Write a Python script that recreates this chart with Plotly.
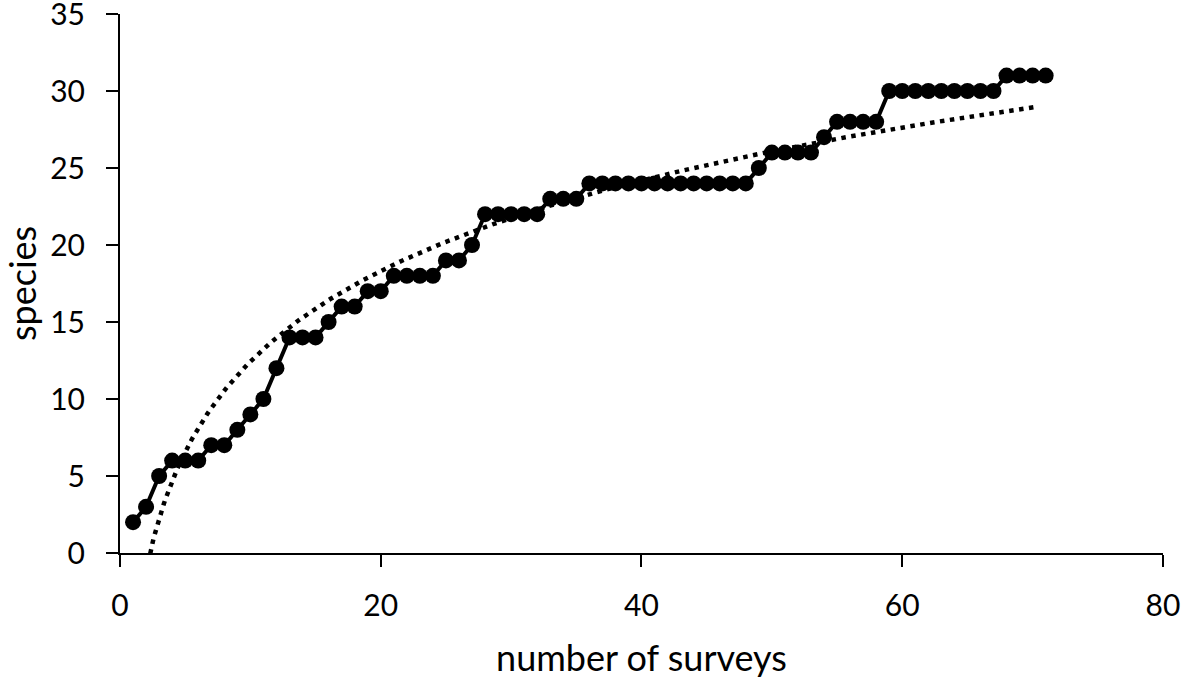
import numpy as np
import plotly.graph_objects as go

surveys = list(range(1, 72))
species = [2, 3, 5, 6, 6, 6, 7, 7, 8, 9, 10, 12, 14, 14, 14, 15, 16, 16, 17, 17,
           18, 18, 18, 18, 19, 19, 20, 22, 22, 22, 22, 22, 23, 23, 23,
           24, 24, 24, 24, 24, 24, 24, 24, 24, 24, 24, 24, 24,
           25, 26, 26, 26, 26, 27, 28, 28, 28, 28,
           30, 30, 30, 30, 30, 30, 30, 30, 30, 31, 31, 31, 31]
x_ticks = [0, 20, 40, 60, 80]
y_ticks = [0, 5, 10, 15, 20, 25, 30, 35]

# logarithmic trendline (least squares on ln x, like a spreadsheet trendline)
a, b = np.polyfit(np.log(surveys), species, 1)
tx = np.linspace(min(surveys), max(surveys) - 0.6, 500)
ty = a * np.log(tx) + b

font = "Lato, Open Sans, sans-serif"
fig = go.Figure()
fig.add_trace(go.Scatter(x=tx, y=ty, mode="lines",
                         line=dict(color="black", width=4.5, dash="4.5px,5.5px"),
                         hoverinfo="skip", showlegend=False))
fig.add_trace(go.Scatter(x=surveys, y=species, mode="lines+markers",
                         line=dict(color="black", width=4),
                         marker=dict(color="black", size=16),
                         showlegend=False))

fig.update_layout(
    width=1181, height=679,
    margin=dict(l=120, r=18, t=14, b=126),
    plot_bgcolor="white", paper_bgcolor="white",
    font=dict(family=font, size=30, color="black"),
)
fig.update_xaxes(range=[0, 80.001], tickvals=x_ticks, showgrid=False, zeroline=False,
                 showline=True, linecolor="black", linewidth=2,
                 ticks="outside", ticklen=12, tickwidth=2, tickcolor="black",
                 ticklabelstandoff=13, automargin=False, ticklabeloverflow="allow",
                 title=dict(text="number of surveys", standoff=32))
fig.update_yaxes(range=[0, 35.001], tickvals=y_ticks, showgrid=False, zeroline=False,
                 showline=True, linecolor="black", linewidth=2,
                 ticks="outside", ticklen=12, tickwidth=2, tickcolor="black",
                 ticklabelstandoff=15, automargin=False, ticklabeloverflow="allow",
                 title=dict(text="species", standoff=43))

fig.write_html("out.html", config={"displayModeBar": False},
               post_script="document.body.style.margin='0';")
